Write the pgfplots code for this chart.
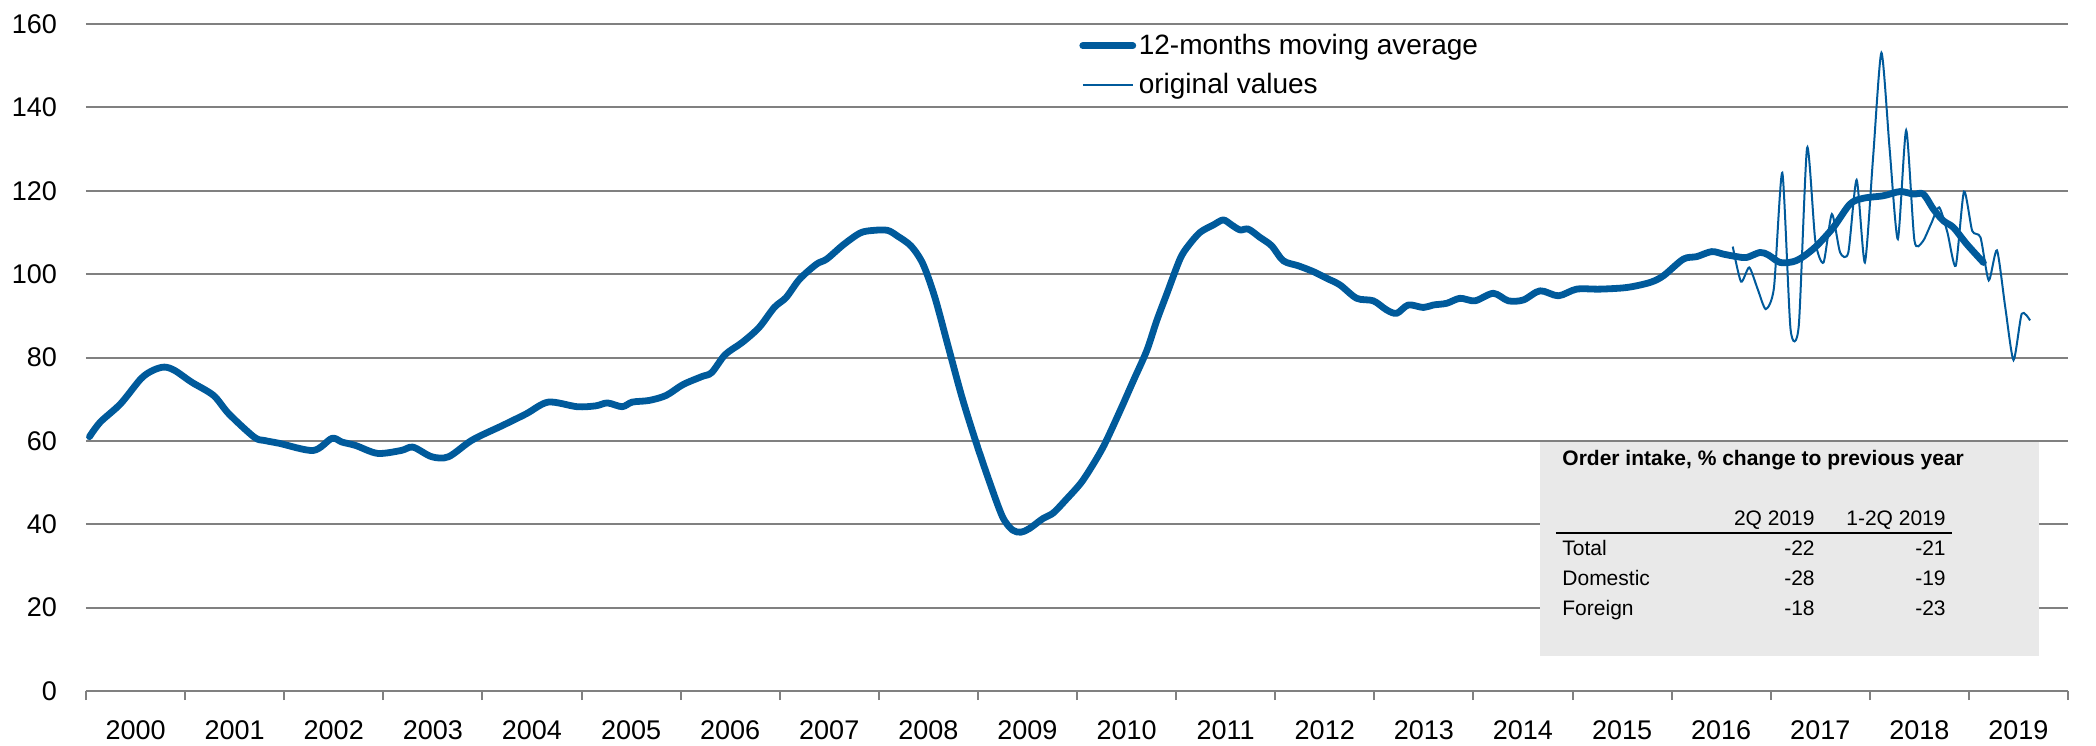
\documentclass[border=0pt]{standalone}
\usepackage{fontspec}
\setmainfont{Liberation Sans}
\usepackage{pgfplots}
\usepackage{pgfplotstable}
\pgfplotsset{compat=1.18}
\definecolor{lineblue}{RGB}{0,90,155}
\definecolor{gridgray}{RGB}{128,128,128}
\definecolor{boxgray}{RGB}{233,233,233}

\pgfplotstableread{
x y
2000.035 61.0
2000.144 64.5
2000.349 68.9
2000.554 74.9
2000.674 76.9
2000.790 77.7
2000.895 76.9
2001.065 74.1
2001.287 70.9
2001.441 66.5
2001.697 60.9
2001.800 60.1
2001.953 59.4
2002.294 57.7
2002.481 60.6
2002.584 59.7
2002.720 58.9
2002.942 57.0
2003.181 57.7
2003.300 58.5
2003.488 56.2
2003.659 56.2
2003.897 60.2
2004.204 63.7
2004.443 66.5
2004.665 69.3
2004.955 68.2
2005.143 68.4
2005.262 69.1
2005.410 68.2
2005.512 69.3
2005.683 69.7
2005.854 70.9
2006.024 73.5
2006.212 75.4
2006.314 76.4
2006.450 80.7
2006.621 83.6
2006.792 87.2
2006.945 92.0
2007.065 94.4
2007.201 98.8
2007.372 102.4
2007.474 103.6
2007.645 107.1
2007.815 109.9
2007.952 110.5
2008.088 110.5
2008.191 109.1
2008.327 106.7
2008.446 102.4
2008.566 94.4
2008.703 82.4
2008.839 70.5
2008.975 60.1
2009.112 50.5
2009.248 41.8
2009.350 38.6
2009.436 38.1
2009.521 39.0
2009.658 41.4
2009.760 42.7
2009.897 46.1
2010.033 49.7
2010.135 53.3
2010.272 58.9
2010.436 67.3
2010.570 74.5
2010.703 81.6
2010.804 88.8
2010.905 95.2
2011.039 103.6
2011.123 106.8
2011.241 110.0
2011.376 111.8
2011.476 113.0
2011.560 111.8
2011.645 110.6
2011.729 110.8
2011.847 108.8
2011.964 106.8
2012.082 103.2
2012.233 102.0
2012.385 100.6
2012.520 99.0
2012.654 97.4
2012.822 94.2
2012.990 93.6
2013.125 91.4
2013.226 90.6
2013.343 92.6
2013.495 92.0
2013.596 92.6
2013.730 93.0
2013.865 94.2
2014.016 93.6
2014.201 95.4
2014.352 93.6
2014.504 93.8
2014.672 96.0
2014.857 94.8
2015.042 96.4
2015.278 96.4
2015.550 96.8
2015.782 98.0
2015.917 99.6
2016.118 103.6
2016.253 104.2
2016.404 105.4
2016.522 104.8
2016.656 104.2
2016.757 104.0
2016.892 105.2
2016.976 104.6
2017.094 102.8
2017.228 103.0
2017.329 104.2
2017.464 106.8
2017.632 111.2
2017.800 116.8
2017.935 118.2
2018.137 118.8
2018.305 119.8
2018.440 119.2
2018.540 119.2
2018.641 115.6
2018.742 112.8
2018.843 111.2
2018.978 107.2
2019.146 102.8
}\mavg

\pgfplotstableread{
x y
2016.617 106.6
2016.700 98.2
2016.783 101.6
2016.867 96.5
2016.950 91.6
2017.033 96.8
2017.117 124.3
2017.200 86.8
2017.283 87.6
2017.367 130.3
2017.450 108.0
2017.533 102.8
2017.617 114.4
2017.700 105.2
2017.783 105.2
2017.867 122.6
2017.950 102.8
2018.033 128.0
2018.117 153.1
2018.200 130.0
2018.283 108.4
2018.367 134.5
2018.450 108.1
2018.533 107.8
2018.617 112.0
2018.700 116.0
2018.783 110.0
2018.867 102.0
2018.950 119.8
2019.033 110.4
2019.117 108.8
2019.200 98.5
2019.283 105.7
2019.367 92.0
2019.450 79.4
2019.533 90.5
2019.617 88.9
}\orig

\begin{document}
\begin{tikzpicture}
\begin{axis}[
  scale only axis,
  width=991pt, height=333.5pt,
  xmin=2000, xmax=2020, ymin=0, ymax=160,
  axis x line*=bottom, axis y line*=left,
  x axis line style={gridgray, line width=1.3pt},
  y axis line style={draw=none},
  xtick={2000,2001,...,2020},
  x tick label as interval,
  xticklabels={2000,2001,2002,2003,2004,2005,2006,2007,2008,2009,2010,2011,2012,2013,2014,2015,2016,2017,2018,2019},
  ytick={0,20,...,160},
  ytick style={draw=none},
  xtick style={gridgray, line width=1pt},
  tick align=outside,
  major tick length=4.5pt,
  ymajorgrids,
  grid style={gridgray, line width=1pt},
  /pgf/number format/assume math mode=true,
  tick label style={font=\fontsize{13.5}{16}\selectfont},
  xticklabel style={yshift=-7pt},
  yticklabel style={xshift=-6.5pt},
  legend style={draw=none, fill=none, at={(axis cs:2010.02,158.3)}, anchor=north west,
    font=\fontsize{14}{17}\selectfont, row sep=5.5pt, inner sep=0pt,
    nodes={inner sep=1.3pt}},
  legend cell align=left,
  legend image code/.code={\draw[#1] (0pt,0pt) -- (25pt,0pt);},
]
\addplot[lineblue, line width=3.4pt, smooth, line cap=round, line join=round] table {\mavg};
\addlegendentry{12-months moving average}
\addplot[lineblue, line width=1pt, smooth, tension=0.4] table {\orig};
\addlegendentry{original values}

\fill[boxgray] (axis cs:2014.672,8.4) rectangle (axis cs:2019.707,59.7);
\node[anchor=base west, inner sep=0pt, font=\bfseries\fontsize{10.5}{12}\selectfont] at (axis cs:2014.894,54.2) {Order intake, \% change to previous year};
\node[anchor=base east, inner sep=0pt, font=\fontsize{10.5}{12}\selectfont] at (axis cs:2017.447,39.6) {2Q 2019};
\node[anchor=base east, inner sep=0pt, font=\fontsize{10.5}{12}\selectfont] at (axis cs:2018.769,39.6) {1-2Q 2019};
\draw[black, line width=1.1pt] (axis cs:2014.833,37.9) -- (axis cs:2018.83,37.9);
\node[anchor=base west, inner sep=0pt, font=\fontsize{10.5}{12}\selectfont] at (axis cs:2014.894,32.4) {Total};
\node[anchor=base west, inner sep=0pt, font=\fontsize{10.5}{12}\selectfont] at (axis cs:2014.894,25.2) {Domestic};
\node[anchor=base west, inner sep=0pt, font=\fontsize{10.5}{12}\selectfont] at (axis cs:2014.894,18.0) {Foreign};
\node[anchor=base east, inner sep=0pt, font=\fontsize{10.5}{12}\selectfont] at (axis cs:2017.447,32.4) {-22};
\node[anchor=base east, inner sep=0pt, font=\fontsize{10.5}{12}\selectfont] at (axis cs:2017.447,25.2) {-28};
\node[anchor=base east, inner sep=0pt, font=\fontsize{10.5}{12}\selectfont] at (axis cs:2017.447,18.0) {-18};
\node[anchor=base east, inner sep=0pt, font=\fontsize{10.5}{12}\selectfont] at (axis cs:2018.769,32.4) {-21};
\node[anchor=base east, inner sep=0pt, font=\fontsize{10.5}{12}\selectfont] at (axis cs:2018.769,25.2) {-19};
\node[anchor=base east, inner sep=0pt, font=\fontsize{10.5}{12}\selectfont] at (axis cs:2018.769,18.0) {-23};
\end{axis}
\pgfresetboundingbox
\useasboundingbox (-43pt,-27pt) rectangle (1005pt,345.5pt);
\end{tikzpicture}
\end{document}
